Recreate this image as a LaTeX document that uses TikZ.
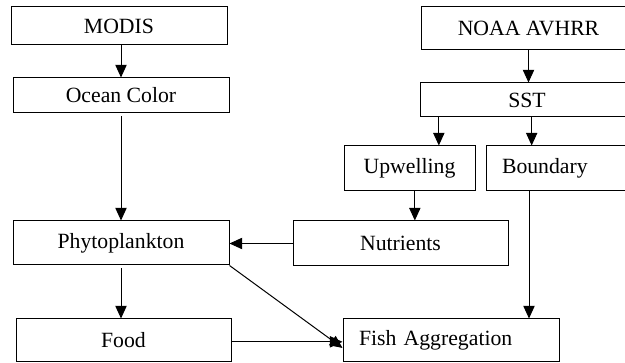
\documentclass[tikz,border=0pt]{standalone}
\usepackage{fontspec}
\setmainfont{Liberation Serif}
\usetikzlibrary{arrows.meta}

\tikzset{every picture/.style={line width=0.75pt}}
\tikzset{
  box/.style={draw, rectangle, inner sep=0pt, font=\fontsize{16.3}{18}\selectfont},
  lbox/.style={box, inner xsep=12pt, align=left},
  flow/.style={-{Triangle[length=9.5pt,width=8.5pt]}}
}

\begin{document}
\begin{tikzpicture}[x=0.75pt,y=0.75pt,yscale=-1,xscale=1]
\useasboundingbox (0,0) rectangle (625,363);

% left column
\node [box, minimum width=162pt, minimum height=28.5pt] (modis) at (119,26) {MODIS};
\node [box, minimum width=162pt, minimum height=26.25pt] (ocean) at (121,95.5) {Ocean Color};
\node [box, minimum width=162pt, minimum height=33pt] (phyto) at (121,243) {Phytoplankton};
\node [box, minimum width=161.25pt, minimum height=32.25pt] (food) at (123.5,340.5) {Food};

% right column
\node [box, minimum width=161.25pt, minimum height=32.25pt] (noaa) at (528.5,28.5) {NOAA AVHRR};
\node [box, minimum width=160.5pt, minimum height=25.5pt] (sst) at (527,100) {SST};
\node [box, minimum width=98.25pt, minimum height=33.75pt] (upw) at (409.5,168.5) {Upwelling};
\node [lbox, text width=88.5pt, minimum height=33.75pt] (bound) at (561,168.5) {Boundary};
\node [box, minimum width=161.25pt, minimum height=33.75pt] (nutr) at (400.5,243.5) {Nutrients};
\node [lbox, text width=138pt, minimum height=32.25pt] (fish) at (451,340.5) {Fish Aggregation};

% connectors
\draw [flow] (modis.south -| ocean.north) -- (ocean.north);
\draw [flow, shorten <=2pt] (ocean.south) -- (phyto.north);
\draw [flow, shorten <=2pt] (phyto.south) -- (phyto.south |- food.north);
\draw [flow] (noaa.south) -- (noaa.south |- sst.north);
\draw [flow] ([xshift=22pt]upw.north |- sst.south) -- ([xshift=22pt]upw.north);
\draw [flow] ([xshift=-22pt]bound.north |- sst.south) -- ([xshift=-22pt]bound.north);
\draw [flow] ([xshift=4pt]upw.south) -- ([xshift=4pt]upw.south |- nutr.north);
\draw [flow] ([xshift=-24pt]bound.south) -- ([xshift=-24pt]bound.south |- fish.north);
\draw [flow] (nutr.west) -- (nutr.west -| phyto.east);
\draw [flow] (phyto.south east) -- ([yshift=5.6pt]fish.west);
\draw [flow] ([yshift=1pt]food.east) -- ([yshift=1pt]food.east -| fish.west);
\end{tikzpicture}
\end{document}
